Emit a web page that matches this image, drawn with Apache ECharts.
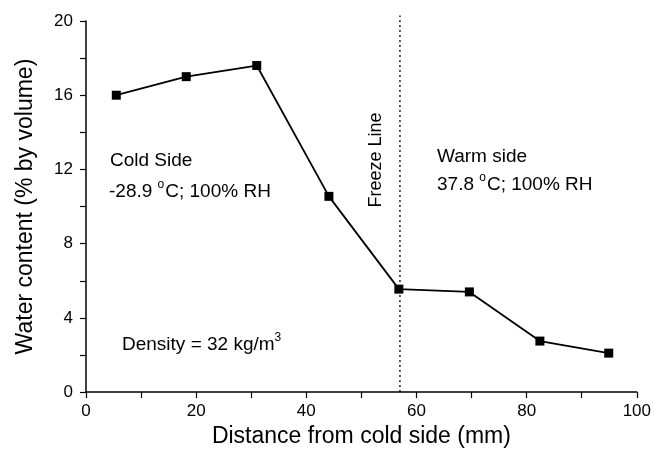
<!DOCTYPE html>
<html><head><meta charset="utf-8">
<script src="https://cdn.jsdelivr.net/npm/echarts@6/dist/echarts.min.js"></script>
<style>html,body{margin:0;padding:0;background:#fff}#c{width:654px;height:453px}</style>
</head><body><div id="c"></div>
<script>
const distance = [5.5, 18.2, 31.0, 44.1, 56.8, 69.6, 82.4, 94.9];
const waterContent = [16.0, 17.0, 17.6, 10.55, 5.55, 5.4, 2.75, 2.1];
const freezeLineX = 57;
const freezeLineY = [0, 20.3];
const xTitle = 'Distance from cold side (mm)';
const yTitle = 'Water content (% by volume)';

const F = '"Liberation Sans", Arial, Helvetica, sans-serif';
const chart = echarts.init(document.getElementById('c'));
const sup = {
  a: {fontSize: 19, fontFamily: F, color: '#000'},
  s: {fontSize: 12, fontFamily: F, color: '#000', padding: [0, 1, 13, 0]}
};
chart.setOption({
  animation: false,
  backgroundColor: '#fff',
  grid: {left: 86, right: 16, top: 21, bottom: 56, containLabel: false},
  xAxis: {
    type: 'value', min: 0, max: 100, interval: 20,
    name: xTitle, nameLocation: 'middle', nameGap: 32,
    nameTextStyle: {fontSize: 23, fontFamily: F, color: '#000'},
    axisLine: {show: true, lineStyle: {color: '#000', width: 1.5}},
    axisTick: {show: true, length: 6, lineStyle: {color: '#000', width: 1.2}},
    minorTick: {show: true, splitNumber: 2, length: 6, lineStyle: {color: '#000', width: 1.2}},
    axisLabel: {fontSize: 17, fontFamily: F, color: '#000', margin: 11},
    splitLine: {show: false}
  },
  yAxis: {
    type: 'value', min: 0, max: 20, interval: 4,
    name: yTitle, nameLocation: 'middle', nameGap: 49, nameRotate: 90,
    nameTextStyle: {fontSize: 23, fontFamily: F, color: '#000'},
    axisLine: {show: true, lineStyle: {color: '#000', width: 1.5}},
    axisTick: {show: true, length: 6, lineStyle: {color: '#000', width: 1.2}},
    minorTick: {show: true, splitNumber: 2, length: 6, lineStyle: {color: '#000', width: 1.2}},
    axisLabel: {fontSize: 17, fontFamily: F, color: '#000', margin: 13},
    splitLine: {show: false}
  },
  series: [
    {
      type: 'line',
      data: distance.map((x, i) => [x, waterContent[i]]),
      symbol: 'rect', symbolSize: 9,
      lineStyle: {color: '#000', width: 1.8},
      itemStyle: {color: '#000'},
      z: 3
    },
    {
      type: 'line',
      data: freezeLineY.map(y => [freezeLineX, y]),
      symbol: 'none', clip: false,
      lineStyle: {color: '#000', width: 1.3, type: [2, 3]},
      z: 2
    }
  ],
  graphic: [
    {type: 'text', left: 110, top: 151, style: {text: 'Cold Side', font: '19px ' + F, fill: '#000'}},
    {type: 'text', left: 109, top: 179, style: {text: '{a|-28.9 }{s|o}{a|C; 100% RH}', rich: sup}},
    {type: 'text', left: 437, top: 147, style: {text: 'Warm side', font: '19px ' + F, fill: '#000'}},
    {type: 'text', left: 437, top: 172, style: {text: '{a|37.8 }{s|o}{a|C; 100% RH}', rich: sup}},
    {type: 'text', left: 122, top: 332, style: {text: '{a|Density = 32 kg/m}{s|3}', rich: sup}},
    {type: 'text', x: 376, y: 160, rotation: Math.PI / 2,
     style: {text: 'Freeze Line', font: '18px ' + F, fill: '#000', align: 'center', verticalAlign: 'middle'}}
  ]
});
</script></body></html>
